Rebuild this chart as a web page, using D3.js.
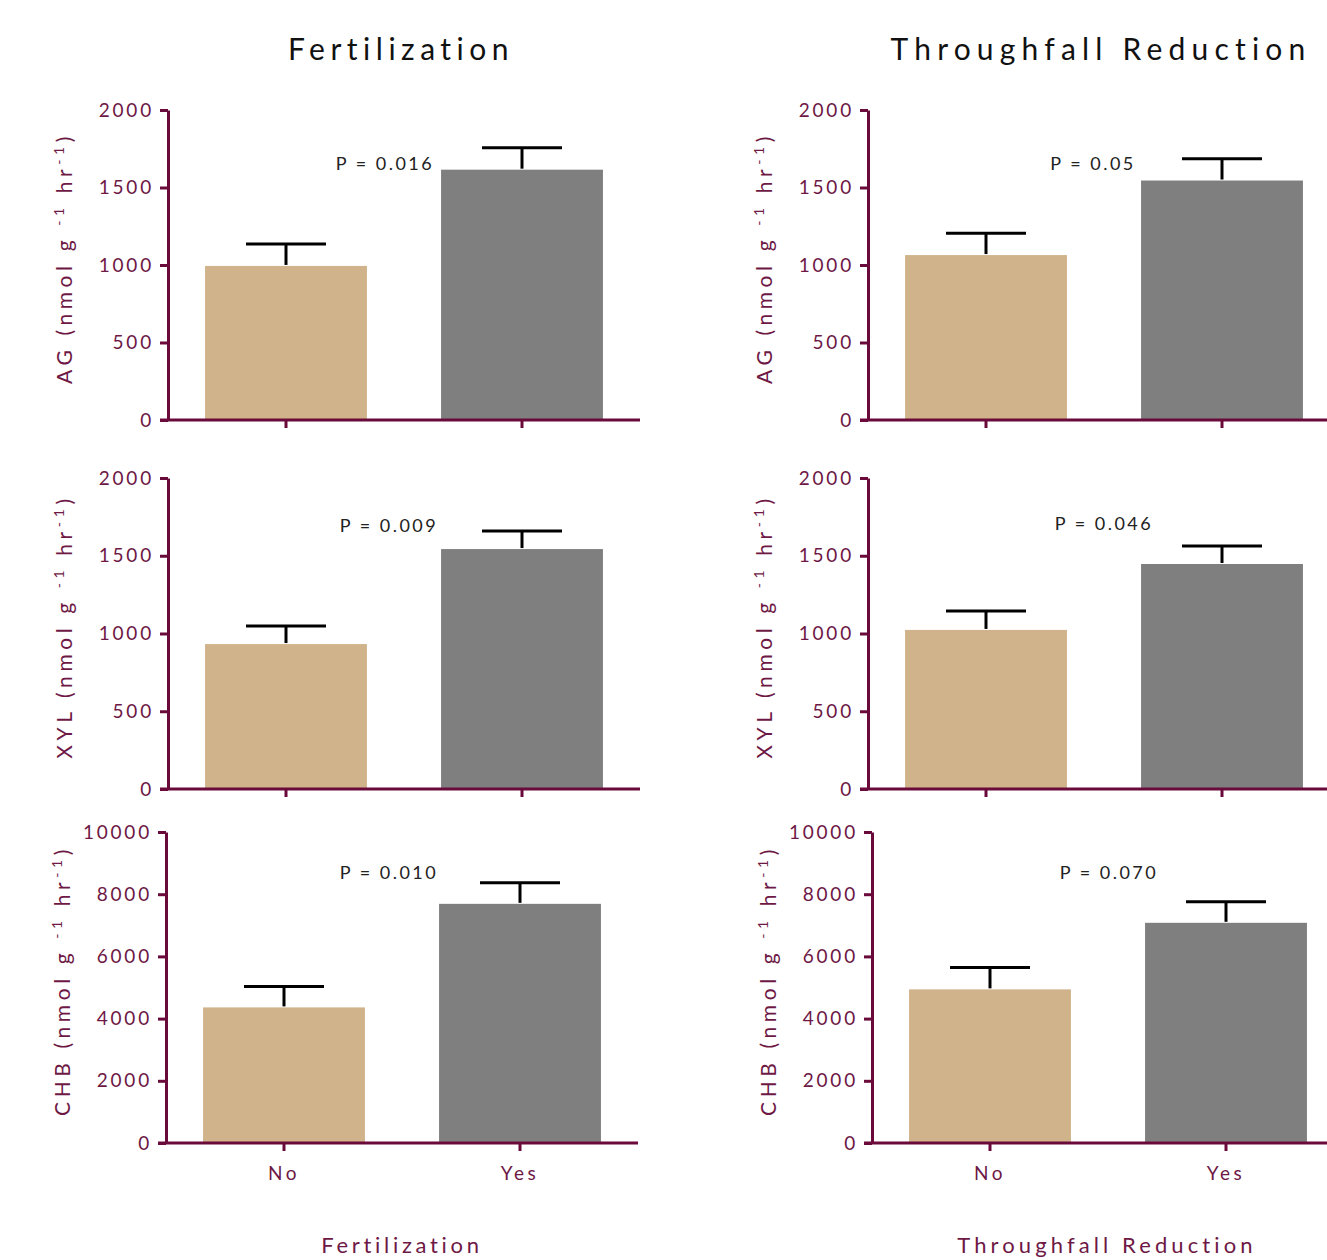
<!DOCTYPE html>
<html>
<head>
<meta charset="utf-8">
<script src="https://cdn.jsdelivr.net/npm/d3@7"></script>
<style>
  body { margin: 0; background: #fff; }
  svg text { font-family: Lato, "Open Sans", sans-serif; }
</style>
</head>
<body>
<div id="container"></div>
<script>
// data

const groups = ["No", "Yes"];
const enzymes = ["AG", "XYL", "CHB"];
const yMax = [2000, 2000, 10000];
const yTicks = [[0, 500, 1000, 1500, 2000], [0, 500, 1000, 1500, 2000], [0, 2000, 4000, 6000, 8000, 10000]];

// fertilization: means and upper error (mean + se)
const fertMean = [[994, 1615], [932, 1543], [4360, 7690]];
const fertErr = [[1135, 1756], [1048, 1659], [5030, 8365]];
const fertP = ["P = 0.016", "P = 0.009", "P = 0.010"];

// throughfall reduction
const trMean = [[1064, 1545], [1023, 1447], [4940, 7080]];
const trErr = [[1205, 1686], [1145, 1563], [5640, 7755]];
const trP = ["P = 0.05", "P = 0.046", "P = 0.070"];

const colNames = ["Fertilization", "Throughfall Reduction"];

// variables

const width = 1327;
const height = 1260;
const axisCol = "#6a0a3a";
const textCol = "#6e1845";
const barCols = ["#d1b38b", "#7f7f7f"];

// layout per panel: y-axis x, top y, zero y
const rows = [
  { top: 110, zero: 420 },
  { top: 478, zero: 789 },
  { top: 832, zero: 1143 }
];
const colX = [[168, 868], [168, 868], [166, 872]];
const pPos = [[[385, 163], [1093, 163]], [[389, 525], [1104, 523]], [[389, 872], [1109, 872]]];

const svg = d3.select("#container")
  .append("svg")
  .attr("width", width)
  .attr("height", height);

// column titles
colNames.forEach((name, c) => {
  svg.append("text")
    .attr("x", c == 0 ? 401 : 1101)
    .attr("y", 60)
    .attr("text-anchor", "middle")
    .attr("font-size", 30)
    .attr("letter-spacing", c == 0 ? 5.5 : 6.2)
    .attr("fill", "#111")
    .text(name);
  svg.append("text")
    .attr("x", c == 0 ? 402 : 1107)
    .attr("y", 1253)
    .attr("text-anchor", "middle")
    .attr("font-size", 22)
    .attr("letter-spacing", c == 0 ? 3.7 : 4.1)
    .attr("fill", textCol)
    .text(name);
});

rows.forEach((row, r) => {
  [0, 1].forEach(c => {
    const ax = colX[r][c];
    const means = c == 0 ? fertMean[r] : trMean[r];
    const errs = c == 0 ? fertErr[r] : trErr[r];
    const pText = c == 0 ? fertP[r] : trP[r];
    const data = groups.map((g, i) => ({ g: g, mean: means[i], err: errs[i], i: i }));

    const xScale = d3.scaleBand()
      .domain(groups)
      .range([ax, ax + 472])
      .paddingInner(0.314)
      .paddingOuter(0.157);

    const yScale = d3.scaleLinear()
      .domain([0, yMax[r]])
      .range([row.zero, row.top]);

    const g = svg.append("g");

    // bars
    g.selectAll("rect")
      .data(data)
      .join("rect")
      .attr("x", d => xScale(d.g))
      .attr("width", xScale.bandwidth())
      .attr("y", d => yScale(d.mean))
      .attr("height", d => yScale(0) - yScale(d.mean))
      .attr("fill", d => barCols[d.i]);

    // error bars
    const cx = d => xScale(d.g) + xScale.bandwidth() / 2;
    g.selectAll(".ev")
      .data(data)
      .join("line")
      .attr("x1", cx).attr("x2", cx)
      .attr("y1", d => yScale(d.mean) - 1)
      .attr("y2", d => yScale(d.err))
      .attr("stroke", "#000")
      .attr("stroke-width", 3);
    g.selectAll(".ec")
      .data(data)
      .join("line")
      .attr("x1", d => cx(d) - 40).attr("x2", d => cx(d) + 40)
      .attr("y1", d => yScale(d.err))
      .attr("y2", d => yScale(d.err))
      .attr("stroke", "#000")
      .attr("stroke-width", 3);

    // y axis
    const yAxis = g.append("g")
      .attr("transform", `translate(${ax},0)`)
      .call(d3.axisLeft(yScale).tickValues(yTicks[r]).tickSize(8).tickSizeOuter(0).tickFormat(d3.format("d")).tickPadding(6));
    yAxis.select(".domain").attr("stroke", axisCol).attr("stroke-width", 3);
    yAxis.selectAll(".tick line").attr("stroke", axisCol).attr("stroke-width", 3);
    yAxis.selectAll(".tick text")
      .attr("fill", textCol)
      .attr("font-size", 19)
      .attr("letter-spacing", 2.8);

    // x axis
    const xAxis = g.append("g")
      .attr("transform", `translate(0,${row.zero})`)
      .call(d3.axisBottom(xScale).tickSize(8).tickSizeOuter(0).tickPadding(16));
    xAxis.select(".domain")
      .attr("d", `M${ax - 8},0H${ax + 472}`)
      .attr("stroke", axisCol).attr("stroke-width", 3);
    xAxis.selectAll(".tick line").attr("stroke", axisCol).attr("stroke-width", 3);
    xAxis.selectAll(".tick text")
      .attr("fill", r == 2 ? textCol : "none")
      .attr("font-size", 19)
      .attr("letter-spacing", 3.5);

    // p value
    g.append("text")
      .attr("x", pPos[r][c][0])
      .attr("y", pPos[r][c][1] + 7)
      .attr("text-anchor", "middle")
      .attr("font-size", 18)
      .attr("letter-spacing", 2.5)
      .attr("fill", "#222")
      .text(pText);

    // y label
    const midY = (row.top + row.zero) / 2 - 7;
    const lab = g.append("text")
      .attr("transform", `translate(${ax - 96},${midY}) rotate(-90)`)
      .attr("text-anchor", "middle")
      .attr("font-size", 21)
      .attr("letter-spacing", 4.6)
      .attr("fill", textCol);
    lab.append("tspan").text(enzymes[r] + " (nmol g ");
    lab.append("tspan").attr("baseline-shift", "super").attr("font-size", 14).text("-1");
    lab.append("tspan").text("  hr");
    lab.append("tspan").attr("baseline-shift", "super").attr("font-size", 14).text("-1");
    lab.append("tspan").text(")");
  });
});
</script>
</body>
</html>
